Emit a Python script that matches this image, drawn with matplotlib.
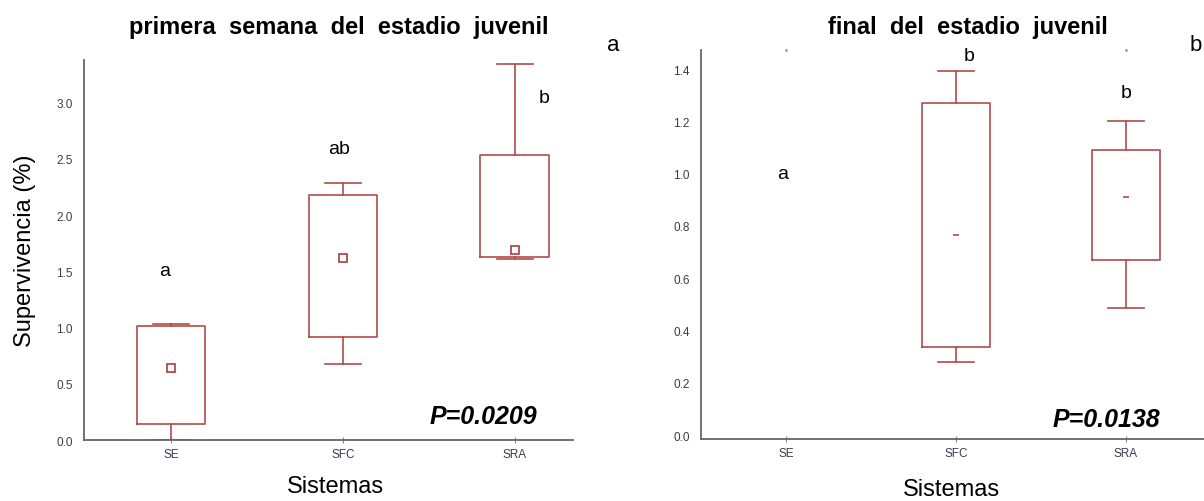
import matplotlib

matplotlib.use("Agg")
import matplotlib.pyplot as plt

plt.rcParams["font.family"] = ["Liberation Sans", "DejaVu Sans"]

SISTEMAS = ["SE", "SFC", "SRA"]
RED = "#b04b49"

# primera semana del estadio juvenil
w1_lo = [0.00, 0.672, 1.612]
w1_q1 = [0.145, 0.914, 1.624]
w1_q3 = [1.018, 2.175, 2.538]
w1_hi = [1.035, 2.290, 3.343]
w1_mean = [0.642, 1.618, 1.686]
w1_letters = ["a", "ab", "b"]
w1_letter_y = [1.51, 2.59, 3.05]

# final del estadio juvenil (SE sin datos)
w2_lo = [None, 0.281, 0.486]
w2_q1 = [None, 0.336, 0.670]
w2_q3 = [None, 1.269, 1.091]
w2_hi = [None, 1.394, 1.202]
w2_mean = [None, 0.766, 0.910]
w2_letters = ["a", "b", "b"]
w2_letter_y = [1.00, 1.45, 1.31]


def stats(lo, q1, q3, hi, mean):
    out, pos = [], []
    for i in range(len(lo)):
        if lo[i] is None:
            continue
        out.append(dict(whislo=lo[i], q1=q1[i], med=q1[i], q3=q3[i],
                        whishi=hi[i], mean=mean[i], fliers=[]))
        pos.append(i)
    return out, pos


def style(ax):
    for s in ("top", "right"):
        ax.spines[s].set_visible(False)
    for s in ("left", "bottom"):
        ax.spines[s].set_color("#666666")
        ax.spines[s].set_linewidth(1.3)
    ax.set_xticks(range(3))
    ax.set_xticklabels(SISTEMAS)
    ax.tick_params(axis="x", direction="inout", length=4, color="#888888",
                   labelsize=8.5, labelcolor="#3b3b4f", pad=4)
    ax.tick_params(axis="y", length=0, labelsize=8.5, labelcolor="#3b3b4f", pad=8)


fig = plt.figure(figsize=(12.04, 5.02), dpi=100)
ax1 = fig.add_axes([0.0698, 0.1215, 0.4062, 0.757])
ax2 = fig.add_axes([0.5822, 0.1235, 0.4178, 0.775])

box_kw = dict(widths=0.40, showmeans=True, patch_artist=False,
              boxprops=dict(color=RED, lw=1.2),
              whiskerprops=dict(color=RED, lw=1.2),
              capprops=dict(color=RED, lw=1.2),
              medianprops=dict(linestyle="none"))
capw = 0.21

st, pos = stats(w1_lo, w1_q1, w1_q3, w1_hi, w1_mean)
ax1.bxp(st, positions=pos, capwidths=capw,
        meanprops=dict(marker="s", markersize=5.5, markerfacecolor="white",
                       markeredgecolor=RED, markeredgewidth=1.3),
        **box_kw)
st, pos = stats(w2_lo, w2_q1, w2_q3, w2_hi, w2_mean)
ax2.bxp(st, positions=pos, capwidths=capw,
        meanprops=dict(marker="_", markersize=5, markeredgecolor=RED,
                       markeredgewidth=1.2),
        **box_kw)

ax1.set_xlim(-0.507, 2.34)
ax1.set_ylim(0, 3.38)
ax1.set_yticks([0.0, 0.5, 1.0, 1.5, 2.0, 2.5, 3.0])
ax1.set_yticklabels([f"{v:.1f}" for v in ax1.get_yticks()])
ax2.set_xlim(-0.5, 2.46)
ax2.set_ylim(-0.015, 1.473)
ax2.set_yticks([0.0, 0.2, 0.4, 0.6, 0.8, 1.0, 1.2, 1.4])
ax2.set_yticklabels([f"{v:.1f}" for v in ax2.get_yticks()])
style(ax1)
style(ax2)

# faint dots at top edge of right panel
ax2.plot([0, 2], [1.473, 1.473], ls="none", marker=".", ms=2, color="#999999",
         clip_on=False)

for i, (t, y) in enumerate(zip(w1_letters, w1_letter_y)):
    dx = 0.17 if i == 2 else -0.04 if i == 0 else -0.02
    ax1.text(i + dx, y, t, ha="center", va="center", fontsize=14)
for i, (t, y) in enumerate(zip(w2_letters, w2_letter_y)):
    dx = -0.02 if i == 0 else 0.08 if i == 1 else 0.0
    ax2.text(i + dx, y, t, ha="center", va="center", fontsize=14)

ax1.text(2.13, 0.21, "P=0.0209", ha="right", va="center", fontsize=18,
         fontweight="bold", fontstyle="italic")
ax2.text(2.2, 0.06, "P=0.0138", ha="right", va="center", fontsize=18,
         fontweight="bold", fontstyle="italic")

ax1.set_ylabel("Supervivencia (%)", fontsize=17, labelpad=15)
fig.text(0.279, 0.03, "Sistemas", ha="center", va="center", fontsize=17)
fig.text(0.790, 0.024, "Sistemas", ha="center", va="center", fontsize=17)

fig.text(0.281, 0.945, "primera  semana  del  estadio  juvenil", ha="center",
         va="center", fontsize=17, fontweight="bold")
fig.text(0.804, 0.945, "final  del  estadio  juvenil", ha="center",
         va="center", fontsize=17, fontweight="bold")
fig.text(0.509, 0.91, "a", ha="center", va="center", fontsize=16)
fig.text(0.993, 0.91, "b", ha="center", va="center", fontsize=16)

fig.savefig("out.png", dpi=100)
